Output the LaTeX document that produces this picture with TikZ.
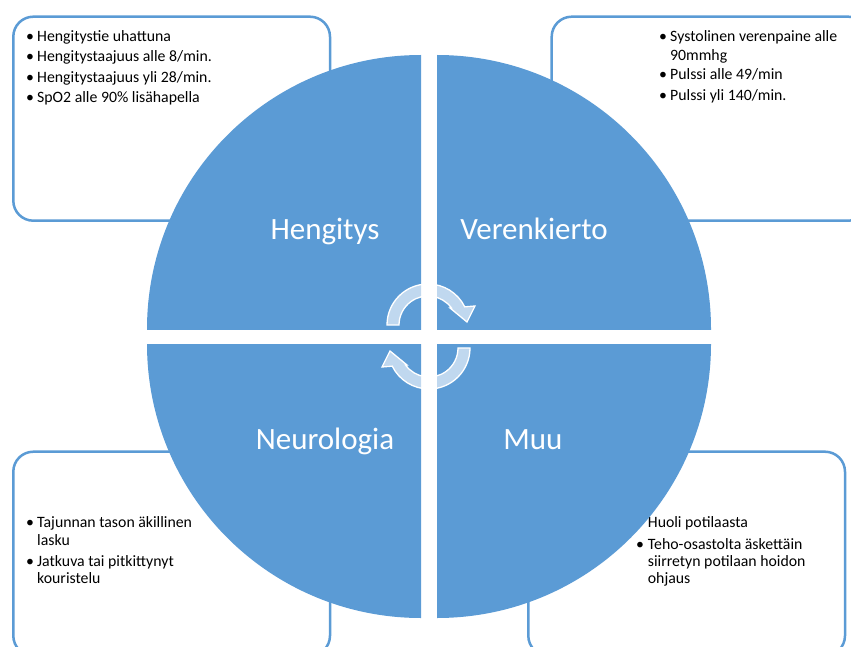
\documentclass[tikz,border=0pt]{standalone}
\usepackage{fontspec}
\setmainfont{Carlito}
\definecolor{qblue}{RGB}{91,155,213}
\begin{document}
\begin{tikzpicture}[x=1pt,y=-1pt,
  infobox/.style={draw=qblue, line width=2.5pt, rounded corners=20pt, fill=white},
  quad/.style={fill=qblue},
  qlabel/.style={anchor=base, inner sep=0pt, text=white, font=\fontsize{31}{37}\selectfont},
  txt/.style={anchor=base west, inner sep=0pt, text=black, font=\fontsize{15.8}{19}\selectfont},
  cycarrow/.style={draw=white, line width=1.3pt, fill=white, fill opacity=0.62}]
\useasboundingbox (0,0) rectangle (851,647);
\clip (0,0) rectangle (851,647);
% info boxes
\draw[infobox] (13.3,16.7) rectangle (330,220.7);
\draw[infobox] (551.7,16.7) rectangle (868.4,220.7);
\draw[infobox] (13.3,451.7) rectangle (330,655.7);
\draw[infobox] (528.3,451.7) rectangle (845,655.7);
% top-left text
\node[txt] (tl1b) at (26,41.7) {•};
\node[txt] (tl1) at (37,41.7) {Hengitystie uhattuna};
\node[txt] (tl2b) at (26,62) {•};
\node[txt] (tl2) at (37,62) {Hengitystaajuus alle 8/min.};
\node[txt] (tl3b) at (26,82.3) {•};
\node[txt] (tl3) at (37,82.3) {Hengitystaajuus yli 28/min.};
\node[txt] (tl4b) at (26,102.3) {•};
\node[txt] (tl4) at (37,102.3) {SpO2 alle 90\% lisähapella};
% top-right text
\node[txt] (tr1b) at (659,41.7) {•};
\node[txt] (tr1) at (670,41.7) {Systolinen verenpaine alle};
\node[txt] (tr1c) at (670,60.7) {90mmhg};
\node[txt] (tr2b) at (659,80) {•};
\node[txt] (tr2) at (670,80) {Pulssi alle 49/min};
\node[txt] (tr3b) at (659,100.7) {•};
\node[txt] (tr3) at (670,100.7) {Pulssi yli 140/min.};
% bottom-left text
\node[txt] (bl1b) at (26,527.3) {•};
\node[txt] (bl1) at (37,527.3) {Tajunnan tason äkillinen};
\node[txt] (bl1c) at (37,545) {lasku};
\node[txt] (bl2b) at (26,566) {•};
\node[txt] (bl2) at (37,566) {Jatkuva tai pitkittynyt};
\node[txt] (bl2c) at (37,583.3) {kouristelu};
% bottom-right text
\node[txt] (br1b) at (636,527.3) {•};
\node[txt] (br1) at (647.7,527.3) {Huoli potilaasta};
\node[txt] (br2b) at (636,549) {•};
\node[txt] (br2) at (647.7,549) {Teho-osastolta äskettäin};
\node[txt] (br2c) at (647.7,566) {siirretyn potilaan hoidon};
\node[txt] (br2d) at (647.7,583.3) {ohjaus};
% quadrants
\begin{scope}\clip (140,40) rectangle (421,329); \fill[quad] (421,329) circle[radius=274]; \end{scope}
\begin{scope}\clip (437,40) rectangle (720,329); \fill[quad] (437,329) circle[radius=274]; \end{scope}
\begin{scope}\clip (140,344) rectangle (421,630); \fill[quad] (421,344) circle[radius=274]; \end{scope}
\begin{scope}\clip (437,344) rectangle (720,630); \fill[quad] (437,344) circle[radius=274]; \end{scope}
% labels
\node[qlabel] (hen) at (325,240) {Hengitys};
\node[qlabel] (ver) at (534,240) {Verenkierto};
\node[qlabel] (neu) at (325,449.3) {Neurologia};
\node[qlabel] (muu) at (533,449.3) {Muu};
% cycle arrows
\path[cycarrow] (387,325) arc[start angle=180, end angle=333.7, radius=41] -- (475,306) -- (467,322) -- (450,308) -- (451.4,307.9) arc[start angle=323.8, end angle=180, radius=29] -- cycle;
\begin{scope}[rotate around={180:(428.5,336.5)}]
\path[cycarrow] (387,325) arc[start angle=180, end angle=333.7, radius=41] -- (475,306) -- (467,322) -- (450,308) -- (451.4,307.9) arc[start angle=323.8, end angle=180, radius=29] -- cycle;
\end{scope}
\end{tikzpicture}
\end{document}
